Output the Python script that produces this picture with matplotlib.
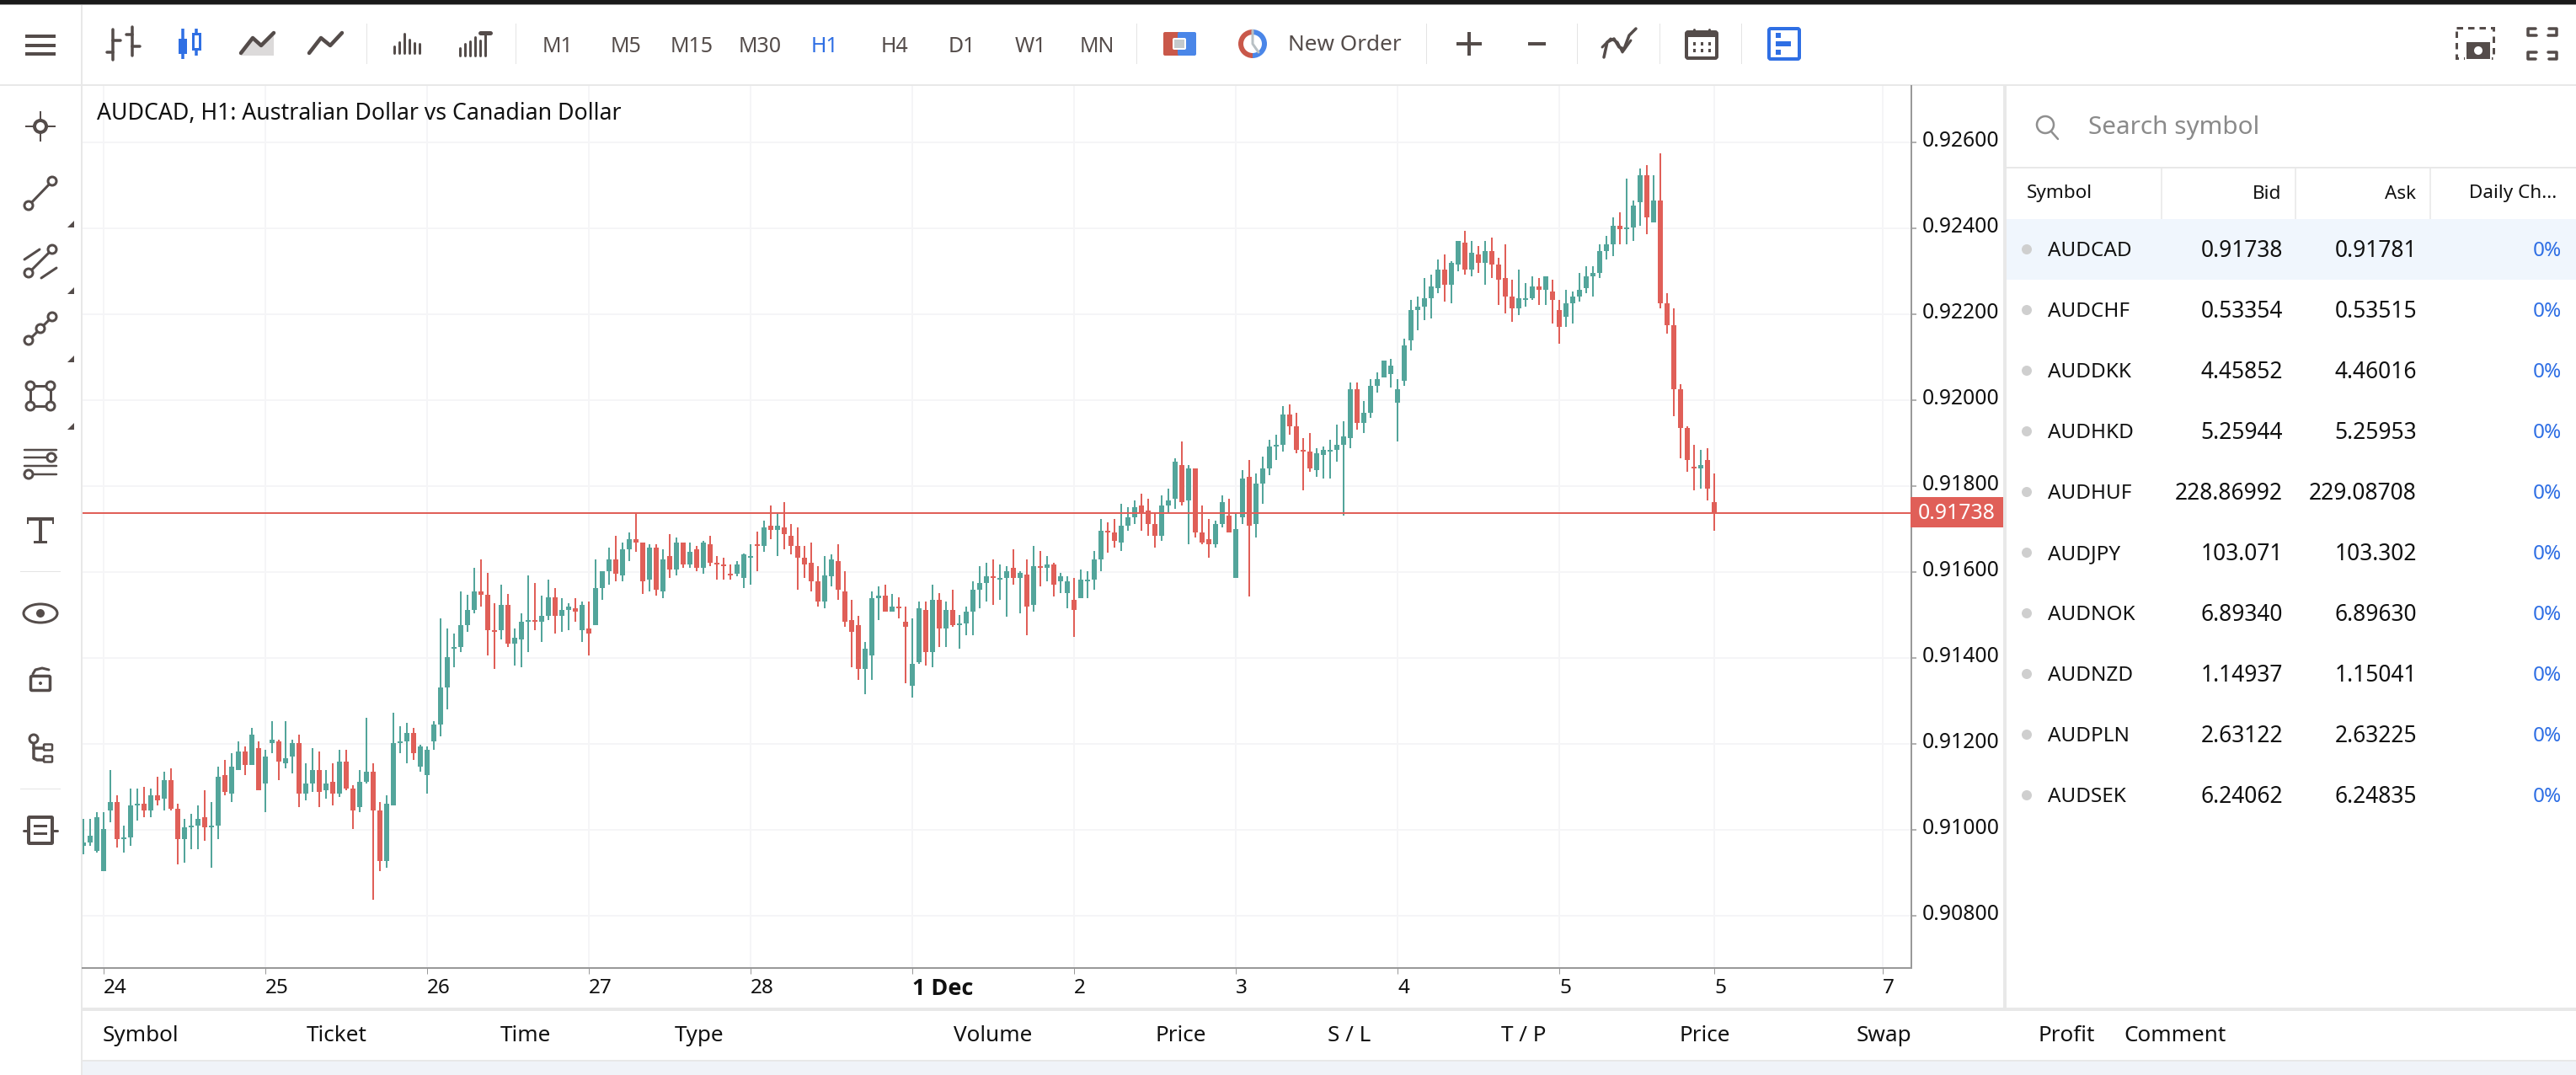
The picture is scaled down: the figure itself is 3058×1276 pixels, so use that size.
import numpy as np
import matplotlib
matplotlib.use("Agg")
import matplotlib.pyplot as plt
from matplotlib.patches import Rectangle, Circle, FancyBboxPatch, Wedge, Polygon, Ellipse
from matplotlib.transforms import ScaledTranslation

plt.rcParams['font.family'] = ['Noto Sans', 'DejaVu Sans']

# ---------- DATA (prices in 1e-5 points, hourly AUDCAD) ----------
open_pts = [
 90963,90971,90951,90904,91045,91065,90978,90982,91057,91061,
 91045,91080,91073,91116,91049,90978,91006,91010,91029,91006,
 91010,91127,91084,91139,91182,91151,91190,91108,91202,91206,
 91155,91171,91202,91084,91108,91139,91092,91112,91084,91159,
 91096,91053,91112,91135,91045,90927,91057,91202,91206,91225,
 91147,91127,91206,91245,91331,91422,91425,91476,91512,91555,
 91547,91465,91464,91523,91433,91444,91484,91488,91484,91499,
 91542,91499,91511,91515,91464,91468,91476,91562,91601,91629,
 91593,91652,91676,91668,91582,91656,91554,91637,91605,91668,
 91617,91652,91609,91664,91621,91617,91597,91597,91586,91633,
 91664,91660,91707,91699,91703,91684,91660,91633,91621,91578,
 91531,91590,91625,91554,91488,91476,91374,91405,91539,91546,
 91507,91519,91484,91335,91390,91512,91414,91535,91469,91512,
 91476,91480,91508,91559,91575,91590,91582,91586,91610,91586,
 91594,91524,91614,91610,91618,91578,91551,91535,91539,91578,
 91582,91629,91696,91692,91669,91708,91727,91755,91743,91712,
 91684,91755,91771,91849,91767,91841,91692,91676,91665,91712,
 91731,91586,91727,91822,91712,91806,91841,91892,91896,91967,
 91939,91884,91880,91837,91873,91880,91884,91896,91912,92025,
 91947,91971,92033,92053,92061,91994,92045,92139,92210,92218,
 92237,92261,92304,92269,92316,92367,92304,92339,92320,92347,
 92316,92284,92241,92214,92233,92237,92265,92257,92253,92210,
 92194,92225,92241,92261,92288,92296,92347,92363,92406,92398,
 92402,92461,92524,92414,92465,92225,92175,92025,91935,91845,
 91841,91861,91763]
high_pts = [
 91025,91025,91041,91041,91139,91080,91010,91096,91096,91100,
 91096,91124,91135,91143,91061,91025,91037,91057,91092,91065,
 91147,91163,91178,91206,91194,91237,91206,91186,91253,91210,
 91253,91210,91222,91155,91190,91182,91139,91155,91186,91186,
 91104,91139,91261,91155,91065,91080,91273,91241,91249,91237,
 91198,91194,91253,91492,91469,91457,91555,91547,91610,91629,
 91598,91527,91570,91550,91468,91503,91593,91574,91546,91582,
 91562,91539,91527,91539,91531,91531,91629,91601,91656,91684,
 91668,91692,91737,91668,91664,91664,91652,91688,91680,91668,
 91668,91660,91672,91684,91637,91633,91617,91625,91644,91664,
 91695,91719,91754,91737,91762,91711,91703,91660,91668,91613,
 91637,91641,91664,91601,91535,91499,91437,91554,91566,91570,
 91550,91542,91519,91492,91531,91531,91571,91551,91531,91559,
 91500,91520,91578,91614,91622,91629,91618,91614,91653,91602,
 91629,91661,91649,91637,91622,91598,91590,91586,91606,91602,
 91649,91724,91716,91724,91759,91751,91767,91782,91771,91735,
 91778,91794,91865,91904,91849,91841,91755,91724,91720,91778,
 91771,91737,91837,91861,91829,91869,91908,91920,91986,91990,
 91971,91912,91924,91888,91892,91908,91943,91951,92041,92041,
 91998,92049,92065,92092,92096,92049,92143,92233,92241,92284,
 92292,92327,92339,92324,92371,92394,92371,92359,92371,92378,
 92331,92363,92280,92304,92273,92288,92284,92288,92280,92233,
 92257,92253,92296,92312,92312,92363,92382,92425,92437,92516,
 92465,92539,92547,92524,92574,92249,92214,92037,91939,91896,
 91884,91888,91829]
low_pts = [
 90943,90963,90947,90904,91018,90959,90947,90963,91022,91029,
 91029,91057,91045,91045,90920,90924,90955,90955,90975,90912,
 90978,91080,91065,91139,91127,91151,91092,91041,91178,91116,
 91143,91131,91053,91069,91088,91053,91073,91057,91076,91092,
 91002,91041,91108,90837,90904,90912,91057,91178,91155,91163,
 91135,91084,91186,91218,91280,91378,91414,91461,91504,91520,
 91406,91375,91444,91425,91382,91378,91413,91464,91437,91488,
 91456,91460,91464,91484,91437,91405,91476,91535,91570,91578,
 91578,91625,91648,91550,91554,91546,91539,91586,91593,91609,
 91609,91601,91597,91613,91582,91582,91582,91590,91562,91570,
 91601,91648,91676,91637,91652,91641,91558,91586,91554,91519,
 91515,91566,91535,91472,91378,91350,91315,91350,91488,91507,
 91507,91492,91342,91307,91386,91382,91378,91425,91425,91473,
 91422,91453,91453,91516,91531,91524,91535,91496,91571,91504,
 91453,91508,91567,91578,91543,91551,91516,91449,91539,91539,
 91559,91602,91645,91657,91649,91696,91712,91696,91684,91657,
 91673,91737,91747,91755,91665,91680,91665,91633,91657,91704,
 91692,91586,91712,91543,91680,91759,91825,91861,91880,91920,
 91876,91790,91833,91822,91818,91818,91857,91731,91888,91931,
 91924,91959,92018,92053,92029,91904,92033,92116,92163,92186,
 92190,92249,92229,92225,92300,92292,92288,92296,92269,92284,
 92222,92202,92182,92198,92218,92233,92222,92222,92178,92131,
 92171,92178,92229,92249,92241,92284,92327,92335,92363,92363,
 92371,92406,92386,92414,92214,92155,91963,91865,91833,91790,
 91794,91767,91696]
close_pts = [
 90971,90986,91029,91002,91065,90978,90982,91057,91061,91045,
 91080,91069,91116,91049,90978,91006,91010,91025,91006,91010,
 91124,91088,91147,91182,91151,91222,91092,91171,91210,91159,
 91167,91202,91084,91108,91139,91088,91108,91084,91159,91096,
 91045,91112,91135,91045,90927,91061,91202,91206,91225,91178,
 91194,91186,91245,91331,91402,91425,91476,91512,91555,91547,
 91465,91461,91523,91433,91448,91484,91488,91484,91499,91542,
 91499,91511,91519,91507,91523,91456,91562,91601,91629,91597,
 91652,91676,91668,91578,91656,91558,91629,91605,91668,91617,
 91648,91609,91668,91621,91617,91613,91593,91617,91641,91637,
 91660,91703,91699,91707,91688,91660,91633,91617,91578,91531,
 91593,91629,91558,91484,91460,91374,91421,91539,91546,91507,
 91519,91515,91472,91386,91516,91414,91535,91469,91512,91476,
 91480,91508,91559,91575,91590,91586,91586,91602,91586,91598,
 91520,91614,91610,91618,91571,91590,91578,91512,91582,91582,
 91629,91696,91692,91673,91708,91727,91751,91737,91712,91684,
 91755,91767,91857,91763,91841,91692,91669,91665,91712,91763,
 91692,91700,91818,91708,91806,91841,91892,91896,91967,91939,
 91884,91880,91841,91876,91884,91884,91896,91916,92025,91947,
 91971,92033,92049,92092,92080,92025,92127,92210,92218,92237,
 92265,92304,92269,92320,92371,92304,92343,92320,92347,92316,
 92280,92241,92214,92237,92237,92265,92257,92288,92233,92171,
 92225,92241,92257,92288,92296,92347,92363,92406,92398,92402,
 92453,92524,92425,92465,92225,92175,92025,91935,91861,91841,
 91849,91794,91738]
last_price = 0.91738

day_ticks = [3, 27, 51, 75, 99, 123, 147, 171, 195, 219, 242, 267]
day_labels = ['24','25','26','27','28','1 Dec','2','3','4','5','5','7']
price_ticks = [0.908,0.910,0.912,0.914,0.916,0.918,0.920,0.922,0.924,0.926]

timeframes = ['M1','M5','M15','M30','H1','H4','D1','W1','MN']
timeframe_x = [662,743,821,902,979,1062,1142,1223,1302]

symbols = ['AUDCAD','AUDCHF','AUDDKK','AUDHKD','AUDHUF','AUDJPY','AUDNOK','AUDNZD','AUDPLN','AUDSEK']
bids = ['0.91738','0.53354','4.45852','5.25944','228.86992','103.071','6.89340','1.14937','2.63122','6.24062']
asks = ['0.91781','0.53515','4.46016','5.25953','229.08708','103.302','6.89630','1.15041','2.63225','6.24835']
daily = ['0%']*10

order_cols = ['Symbol','Ticket','Time','Type','Volume','Price','S / L','T / P','Price','Swap','Profit','Comment']
order_x = [122,364,594,801,1132,1372,1576,1782,1993,2204,2420,2521]

# ---------- STYLE ----------
W, H = 3058, 1276
TEAL = '#53a59b'; RED = '#e05f58'; ICON = '#544c4a'; BLUE = '#2f6fe4'
GRID = '#f5f5f7'; AXC = '#999999'; SEP = '#e8e8e8'
PX = 0.72  # points per pixel at dpi 100
FS = 17.8    # axis numbers
FN = 19      # table numbers
FT = 18.8    # long labels

fig = plt.figure(figsize=(W/100, H/100), dpi=100, facecolor='white')

def overlay(z):
    a = fig.add_axes([0, 0, 1, 1], zorder=z)
    a.set_xlim(0, W); a.set_ylim(H, 0); a.axis('off'); a.patch.set_alpha(0)
    return a

bg = overlay(0)
top = overlay(5)

def rect(a, x0, y0, x1, y1, c, **k):
    a.add_patch(Rectangle((x0, y0), x1-x0, y1-y0, fc=c, ec='none', lw=0, **k))

def line(a, xs, ys, c=ICON, w=4, **k):
    k.setdefault('solid_capstyle', 'round')
    a.plot(xs, ys, color=c, lw=w*PX, **k)

def ring(a, x, y, r=5, w=3, c=ICON, fc='white'):
    a.add_patch(Circle((x, y), r, fc=fc, ec=c, lw=w*PX, zorder=4))

# ---------- chrome ----------
rect(bg, 0, 0, W, 5, '#1a1a1a')
rect(bg, 0, 5, W, 6, '#9a9a9a')
rect(bg, 0, 100, W, 102, SEP)
rect(bg, 96, 6, 98, H, SEP)
rect(bg, 98, 1196, W, 1200, SEP)
rect(bg, 98, 1258, W, 1260, SEP)
rect(bg, 98, 1260, W, H, '#f0f3f8')
rect(bg, 2378, 102, 2382, 1196, SEP)
rect(bg, 2382, 198, W, 200, SEP)
for x in (2566, 2725, 2885):
    rect(bg, x-1, 200, x+1, 260, '#ececec')
for x in (436, 613, 1350, 1694, 1873, 1971, 2068):
    rect(bg, x-1, 28, x, 76, '#e4e4e4')
rect(bg, 2382, 260, W, 332, '#f0f6fd')
for y in (679, 937):
    rect(bg, 24, y-1, 72, y, '#e4e4e4')

# hamburger
for y in (43, 54, 64):
    rect(top, 30, y-2, 66, y+2, ICON)

# OHLC icon
for x, y0, y1, yl, yr in ((134, 35, 71, 62, 48), (157, 32, 66, 41, 55)):
    line(top, [x, x], [y0, y1], w=3.5)
    line(top, [x-7, x], [yl, yl], w=3.5)
    line(top, [x, x+9], [yr, yr], w=3.5)
# candle icon
line(top, [217, 217], [34, 70], BLUE, 3.5, solid_capstyle='butt')
rect(top, 212, 46, 222, 64, BLUE)
line(top, [233, 233], [34, 66], BLUE, 3.5, solid_capstyle='butt')
top.add_patch(Rectangle((229, 40), 8, 18, fc='white', ec=BLUE, lw=3*PX, zorder=4))
# area / line icons
top.add_patch(Polygon([(286, 66), (286, 63), (300, 45), (310, 54), (325, 39), (325, 66)], fc='#dcdada', ec='none'))
line(top, [286, 300, 310, 325], [63, 45, 54, 39], w=4.5)
line(top, [367, 381, 392, 406], [63, 45, 54, 39], w=4.5)
# histogram icons
for x, t in zip((468, 474, 480, 486, 492, 498), (55, 50, 40, 47, 51, 52)):
    line(top, [x, x], [t, 63], w=3)
for x, t in zip((546, 552, 558, 564, 570, 576), (57, 52, 49, 44, 48, 39)):
    line(top, [x, x], [t, 66], w=3)
line(top, [570, 582], [39, 39], w=5)

# broker icon
top.add_patch(FancyBboxPatch((1383, 40), 18, 24, boxstyle='round,pad=2', fc='#c9584a', ec='none'))
top.add_patch(FancyBboxPatch((1400, 40), 18, 24, boxstyle='round,pad=2', fc='#4a86e8', ec='none'))
top.add_patch(FancyBboxPatch((1394, 47), 12, 10, boxstyle='round,pad=1', fc='#c4c9cc', ec='white', lw=2*PX, zorder=4))
# order icon
top.add_patch(Wedge((1487, 52), 17, 90, 270, width=6, fc='#c9584a', ec='none'))
top.add_patch(Wedge((1487, 52), 17, 270, 90, width=6, fc='#4a86e8', ec='none'))
line(top, [1487, 1487, 1494], [36, 52, 62], '#b8c0c4', 3)
# plus, minus
rect(top, 1729, 50, 1759, 54, ICON); rect(top, 1742, 38, 1746, 66, ICON)
rect(top, 1814, 50, 1835, 54, ICON)
# indicator icon
line(top, [1904, 1908, 1916, 1922, 1928, 1934, 1942], [68, 50, 46, 56, 58, 42, 34], w=3.5)
line(top, [1902, 1912, 1920, 1926, 1936], [56, 46, 50, 62, 48], w=3)
# calendar
top.add_patch(FancyBboxPatch((2004, 40), 32, 27, boxstyle='round,pad=2', fc='white', ec=ICON, lw=4*PX))
rect(top, 2004, 40, 2036, 44, ICON)
for x in (2010, 2019, 2028):
    for y in (50, 58):
        rect(top, x, y, x+3, y+4, ICON)
line(top, [2011, 2011], [35, 39], w=3); line(top, [2029, 2029], [35, 39], w=3)
# notes icon
top.add_patch(FancyBboxPatch((2102, 36), 32, 32, boxstyle='round,pad=2', fc='white', ec=BLUE, lw=4*PX))
for y in (42, 52, 62):
    rect(top, 2108, y-3, 2114 if y != 52 else 2126, y+3, BLUE)
# screenshot icon
top.add_patch(Rectangle((2916, 33), 44, 36, fc='none', ec=ICON, lw=3*PX, ls=(0, (2.5, 2))))
top.add_patch(FancyBboxPatch((2928, 50), 28, 20, boxstyle='round,pad=1', fc=ICON, ec='white', lw=2*PX, zorder=4))
top.add_patch(Circle((2942, 60), 5, fc='white', ec='none', zorder=5))
# fullscreen icon
for sx, sy in ((3001, 34), (3035, 34), (3001, 70), (3035, 70)):
    dx = 1 if sx < 3018 else -1
    dy = 1 if sy < 52 else -1
    line(top, [sx+dx*9, sx, sx, sx+dx*10], [sy, sy, sy+dy*8, sy+dy*8], w=3.5)

# left tool icons
CX = 48
rect(top, 30, 149, 66, 151, ICON); rect(top, 47, 132, 49, 168, ICON)
ring(top, CX, 150, 7, 4)
# line
line(top, [34, 62], [244, 215], w=3); ring(top, 34, 244); ring(top, 62, 215)
# channels
line(top, [29, 47], [308, 296], w=3); line(top, [49, 67], [330, 318], w=3)
line(top, [34, 62], [324, 296], w=3); ring(top, 34, 324); ring(top, 62, 296)
# polyline
line(top, [34, 62], [404, 376], w=3); ring(top, 34, 404); ring(top, 48, 390); ring(top, 62, 376)
# rectangle
top.add_patch(Rectangle((36, 458), 24, 24, fc='none', ec=ICON, lw=3*PX))
for x in (36, 60):
    for y in (458, 482):
        ring(top, x, y, 5)
# levels
for y in (534, 543, 553, 563):
    line(top, [29, 67], [y, y], w=2.5)
ring(top, 61, 543, 5); ring(top, 34, 563, 5)
# text
rect(top, 32, 614, 64, 618, ICON); rect(top, 46, 616, 50, 644, ICON); rect(top, 40, 642, 56, 645, ICON)
rect(top, 32, 614, 34, 622, ICON); rect(top, 62, 614, 64, 622, ICON)
# eye
top.add_patch(Ellipse((48, 728), 40, 22, fc='white', ec=ICON, lw=3*PX))
top.add_patch(Circle((48, 728), 5, fc=ICON, ec='none'))
# lock
top.add_patch(FancyBboxPatch((38, 804), 20, 14, boxstyle='round,pad=1.5', fc='white', ec=ICON, lw=3.5*PX))
line(top, [39, 42, 50, 58], [800, 795, 793, 795], w=3)
top.add_patch(Circle((48, 811), 2, fc=ICON, ec='none'))
# tree
ring(top, 40, 877, 5)
line(top, [40, 40, 44, 54], [882, 900, 902, 902], w=3.5)
line(top, [40, 54], [888, 888], w=3.5)
for y in (887, 901):
    top.add_patch(FancyBboxPatch((53, y-2.5), 8, 5, boxstyle='round,pad=1', fc='white', ec=ICON, lw=2.5*PX, zorder=4))
# layers
line(top, [28, 68], [986, 986], w=3)
top.add_patch(FancyBboxPatch((35, 971), 26, 29, boxstyle='round,pad=1', fc='white', ec=ICON, lw=4*PX, zorder=4))
rect(top, 40, 979, 56, 982, ICON, zorder=5); rect(top, 40, 988, 56, 991, ICON, zorder=5)
# small triangles
for y in (266, 345, 426, 506):
    top.add_patch(Polygon([(80, y+4), (88, y+4), (88, y-4)], fc=ICON, ec='none'))

# timeframes
for t, x in zip(timeframes, timeframe_x):
    top.text(x, 56, t, ha='center', va='center', fontsize=18, color=BLUE if t == 'H1' else ICON)
top.text(1529, 54, 'New Order', ha='left', va='center', fontsize=FT, color=ICON)

# search
top.add_patch(Circle((2428, 148), 10, fc='none', ec='#8f8f8f', lw=2.5*PX))
line(top, [2435, 2443], [156, 165], '#8f8f8f', 2.5)
top.text(2479, 152, 'Search symbol', ha='left', va='center', fontsize=21.4, color='#8a8a8a')

# table
HDR_Y = 230
top.text(2406, HDR_Y, 'Symbol', ha='left', va='center', fontsize=16.2, color='#111111')
top.text(2708, HDR_Y, 'Bid', ha='right', va='center', fontsize=16.2, color='#111111')
top.text(2868, HDR_Y, 'Ask', ha='right', va='center', fontsize=16.2, color='#111111')
top.text(3035, HDR_Y, 'Daily Ch...', ha='right', va='center', fontsize=16.2, color='#111111')
for i, (s, b, a_, d) in enumerate(zip(symbols, bids, asks, daily)):
    y = 296 + 72*i
    ty = y + 2
    top.add_patch(Circle((2406, y), 6, fc='#cfcfcf', ec='none'))
    top.text(2431, ty, s, ha='left', va='center', fontsize=17.5, color='#111111')
    top.text(2710, ty, b, ha='right', va='center', fontsize=FN, color='#111111')
    top.text(2869, ty, a_, ha='right', va='center', fontsize=FN, color='#111111')
    top.text(3041, ty, d, ha='right', va='center', fontsize=17.5, color=BLUE)

# orders header
for t, x in zip(order_cols, order_x):
    top.text(x, 1229, t, ha='left', va='center', fontsize=FT, color='#111111')

# ---------- chart ----------
AX_L, AX_R, AX_T, AX_B = 98, 2269, 102, 1149
ax = fig.add_axes([AX_L/W, 1-AX_B/H, (AX_R-AX_L)/W, (AX_B-AX_T)/H], zorder=2)
o = np.array(open_pts)/1e5; h = np.array(high_pts)/1e5
l = np.array(low_pts)/1e5; c = np.array(close_pts)/1e5
x = np.arange(len(o))
up = c >= o
colors = np.where(up, TEAL, RED)
ax.vlines(x, l, h, colors=colors, lw=2*PX, zorder=3, capstyle='butt')
ax.bar(x, np.abs(c-o), bottom=np.minimum(o, c), width=0.75, color=colors, lw=0, zorder=3, antialiased=False)
ax.axhline(last_price, color=RED, lw=2*PX, zorder=4)

ax.set_xlim(-0.125, 271.25)
ax.set_ylim(0.908-(AX_B-1087)/51000, 0.908+(1087-AX_T)/51000)
ax.set_xticks(day_ticks); ax.set_xticklabels(day_labels)
ax.set_yticks(price_ticks); ax.set_yticklabels([f'{p:.5f}' for p in price_ticks])
ax.yaxis.tick_right()
ax.grid(True, color=GRID, lw=2*PX, zorder=0)
ax.set_axisbelow(True)
for s in ('top', 'left'):
    ax.spines[s].set_visible(False)
for s in ('right', 'bottom'):
    ax.spines[s].set_color(AXC); ax.spines[s].set_linewidth(2*PX)
ax.tick_params(axis='y', length=6*PX, width=1.5*PX, color=AXC, pad=7*PX, labelsize=FS, labelcolor='#111111')
ax.tick_params(axis='x', length=7*PX, width=1*PX, color=AXC, pad=5*PX, labelsize=17.5, labelcolor='#111111')
for lab, txt in zip(ax.get_xticklabels(), day_labels):
    lab.set_ha('left')
    if txt == '1 Dec':
        lab.set_fontfamily(['Open Sans', 'DejaVu Sans'])
        lab.set_fontweight('bold')
        lab.set_fontsize(19.5)
lift = ScaledTranslation(0, 2/100, fig.dpi_scale_trans)
for lab in ax.get_yticklabels():
    lab.set_va('center')
    lab.set_transform(lab.get_transform() + lift)
top.text(115, 135, 'AUDCAD, H1: Australian Dollar vs Canadian Dollar', ha='left', va='center', fontsize=19.2, color='#111111')

# price tag
rect(top, 2268, 590, 2378, 626, RED)
top.text(2323, 609, f'{last_price:.5f}', ha='center', va='center', fontsize=FS, color='white')

fig.savefig('out.png', dpi=100, facecolor='white')
